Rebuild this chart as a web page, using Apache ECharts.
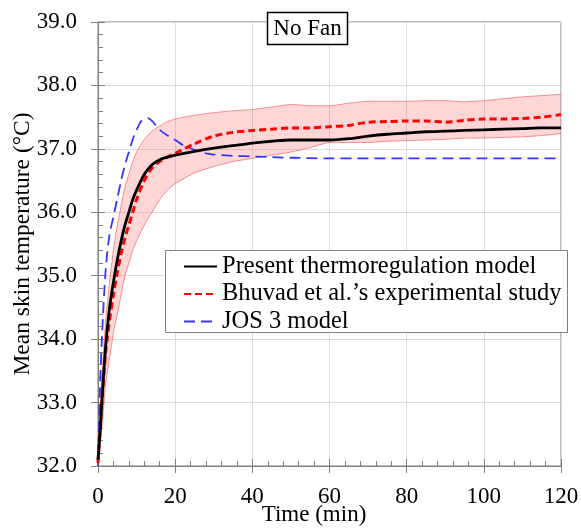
<!DOCTYPE html>
<html>
<head>
<meta charset="utf-8">
<script src="https://cdn.jsdelivr.net/npm/echarts@6/dist/echarts.min.js"></script>
<style>html,body{margin:0;padding:0;background:#fff;}#c{width:581px;height:528px;}</style>
</head>
<body>
<div id="c"></div>
<script>
// ---- data ----
const modelTime = [0,0.5,1,2,3,4,5,6,7,8,9,10,12,14,16,18,20,25,30,35,40,45,50,55,60,65,70,75,80,85,90,95,100,105,110,115,120];
const modelTemp = [32.1,32.5,33.0,33.9,34.5,34.9,35.25,35.55,35.8,36.0,36.2,36.35,36.6,36.75,36.83,36.87,36.9,36.96,37.01,37.05,37.09,37.12,37.14,37.14,37.14,37.16,37.2,37.23,37.25,37.27,37.28,37.29,37.3,37.31,37.32,37.33,37.33];

const expTime = [0,1,2,3,4,5,6,7,8,9,10,12,14,16,18,20,25,30,35,40,45,50,55,60,65,70,75,80,85,90,95,100,105,110,115,120];
const expTemp = [32.05,33.0,33.8,34.3,34.7,35.05,35.35,35.6,35.8,36.0,36.2,36.5,36.7,36.8,36.87,36.93,37.08,37.2,37.26,37.29,37.31,37.33,37.33,37.35,37.37,37.42,37.43,37.44,37.44,37.42,37.45,37.47,37.47,37.48,37.5,37.54];
const expUpper = [32.1,33.4,34.3,34.9,35.4,35.8,36.1,36.4,36.6,36.8,36.95,37.15,37.28,37.36,37.43,37.47,37.53,37.57,37.6,37.62,37.66,37.7,37.68,37.68,37.72,37.75,37.75,37.75,37.76,37.76,37.74,37.76,37.79,37.82,37.84,37.86];
const expLower = [32.0,32.6,33.3,33.7,34.1,34.4,34.7,35.0,35.2,35.4,35.55,35.8,36.0,36.2,36.35,36.45,36.62,36.72,36.8,36.85,36.9,36.95,37.02,37.1,37.1,37.1,37.12,37.13,37.14,37.15,37.17,37.17,37.18,37.19,37.21,37.24];

const josTime = [0,0.5,1,2,3,4,5,6,7,8,9,10,11,12,13,14,15,16,18,20,22,24,26,28,30,35,40,50,60,70,80,90,100,110,120];
const josTemp = [32.0,33.2,34.0,35.1,35.65,35.93,36.22,36.5,36.75,36.95,37.15,37.3,37.42,37.47,37.48,37.44,37.37,37.3,37.21,37.14,37.06,37.01,36.96,36.93,36.91,36.89,36.88,36.86,36.85,36.85,36.85,36.85,36.85,36.85,36.85];

const xTicks = {min:0, max:120, interval:20};
const yTicks = {min:32, max:39, interval:1};
const seriesNames = ['Present thermoregulation model', 'Bhuvad et al.\u2019s experimental study', 'JOS 3 model'];

// ---- chart ----
const FONT = 'Liberation Serif, Times New Roman, serif';
const pair = (xs, ys) => xs.map((x, i) => [x, ys[i]]);
const axisGray = '#808080';
const bandEdge = 'rgba(240,110,110,0.75)';

const chart = echarts.init(document.getElementById('c'), null, {renderer: 'canvas'});
chart.setOption({
  animation: false,
  backgroundColor: '#fff',
  grid: {left: 98, right: 20, top: 22, bottom: 62, show: true, borderColor: axisGray, borderWidth: 1,
         containLabel: false, outerBoundsMode: 'none'},
  xAxis: [
    {type: 'value', min: xTicks.min, max: xTicks.max, interval: xTicks.interval, position: 'bottom',
     axisLine: {show: true, lineStyle: {color: axisGray, width: 1}},
     axisTick: {show: true, inside: false, length: 7, lineStyle: {color: axisGray}},
     axisLabel: {margin: 19, color: '#000', fontFamily: FONT, fontSize: 23},
     splitLine: {show: true, lineStyle: {color: '#dcdcdc', width: 1}}},
    {type: 'value', min: xTicks.min, max: xTicks.max, interval: xTicks.interval, position: 'bottom',
     axisLine: {show: false},
     axisTick: {show: true, inside: true, length: 7, lineStyle: {color: axisGray}},
     minorTick: {show: true, splitNumber: 5, length: 5, lineStyle: {color: axisGray}},
     axisLabel: {show: false}, splitLine: {show: false}}
  ],
  yAxis: [
    {type: 'value', min: yTicks.min, max: yTicks.max, interval: yTicks.interval, position: 'left',
     name: 'Mean skin temperature (\u00B0C)', nameLocation: 'middle', nameGap: 63, nameMoveOverlap: false,
     nameTextStyle: {color: '#000', fontFamily: FONT, fontSize: 23.5},
     axisLine: {show: true, lineStyle: {color: axisGray, width: 1}},
     axisTick: {show: true, inside: false, length: 7, lineStyle: {color: axisGray}},
     axisLabel: {margin: 21, color: '#000', fontFamily: FONT, fontSize: 23, formatter: v => v.toFixed(1)},
     splitLine: {show: true, lineStyle: {color: '#dcdcdc', width: 1}}},
    {type: 'value', min: yTicks.min, max: yTicks.max, interval: yTicks.interval, position: 'left',
     axisLine: {show: false},
     axisTick: {show: true, inside: true, length: 7, lineStyle: {color: axisGray}},
     minorTick: {show: true, splitNumber: 5, length: 5, lineStyle: {color: axisGray}},
     axisLabel: {show: false}, splitLine: {show: false}}
  ],
  legend: {
    data: seriesNames, orient: 'vertical', left: 178, top: 249, z: 200,
    itemWidth: 33, itemHeight: 14, itemGap: 2.5,
    itemStyle: {opacity: 0},
    textStyle: {color: '#000', fontFamily: FONT, fontSize: 24.5, lineHeight: 25}
  },
  series: [
    {name: 'band', type: 'custom', silent: true, z: 1, clip: true,
     data: expTime.map((t, i) => [t, expLower[i], expUpper[i]]),
     encode: {x: 0, y: [1, 2]},
     renderItem: function (params, api) {
       if (params.dataIndex !== 0) return null;
       const pts = [];
       for (let i = 0; i < expTime.length; i++) pts.push(api.coord([expTime[i], expUpper[i]]));
       for (let i = expTime.length - 1; i >= 0; i--) pts.push(api.coord([expTime[i], expLower[i]]));
       return {type: 'polygon', shape: {points: pts}, style: {fill: 'rgba(255,90,90,0.25)', stroke: null}};
     }},
    {name: 'bandUpper', type: 'line', data: pair(expTime, expUpper), symbol: 'none', smooth: 0.2,
     lineStyle: {color: bandEdge, width: 1}, z: 1, silent: true},
    {name: 'bandLower', type: 'line', data: pair(expTime, expLower), symbol: 'none', smooth: 0.2,
     lineStyle: {color: bandEdge, width: 1}, z: 1, silent: true},
    {name: seriesNames[2], type: 'line', data: pair(josTime, josTemp), symbol: 'none', smooth: 0.3,
     lineStyle: {color: '#3535ff', width: 1.8, type: [11, 6]}, itemStyle: {color: '#3535ff'}, z: 3},
    {name: seriesNames[1], type: 'line', data: pair(expTime, expTemp), symbol: 'none', smooth: 0.3,
     lineStyle: {color: '#ff0000', width: 3, type: [7, 4]}, itemStyle: {color: '#ff0000'}, z: 4},
    {name: seriesNames[0], type: 'line', data: pair(modelTime, modelTemp), symbol: 'none', smooth: 0.3,
     lineStyle: {color: '#000', width: 2.8}, itemStyle: {color: '#000'}, z: 5}
  ],
  graphic: [
    {type: 'rect', z: 100, shape: {x: 165.5, y: 250.5, width: 402, height: 82},
     style: {fill: '#fff', stroke: axisGray, lineWidth: 1}},
    {type: 'rect', z: 100, shape: {x: 267.5, y: 12.5, width: 80, height: 32},
     style: {fill: '#fff', stroke: '#000', lineWidth: 1.5}},
    {type: 'text', z: 101, x: 307.5, y: 29, style: {text: 'No Fan', fill: '#000', font: '23px ' + FONT, textAlign: 'center', textVerticalAlign: 'middle'}},
    {type: 'text', z: 101, x: 314, y: 515, style: {text: 'Time (min)', fill: '#000', font: '23px ' + FONT, textAlign: 'center', textVerticalAlign: 'middle'}}
  ]
});
</script>
</body>
</html>
